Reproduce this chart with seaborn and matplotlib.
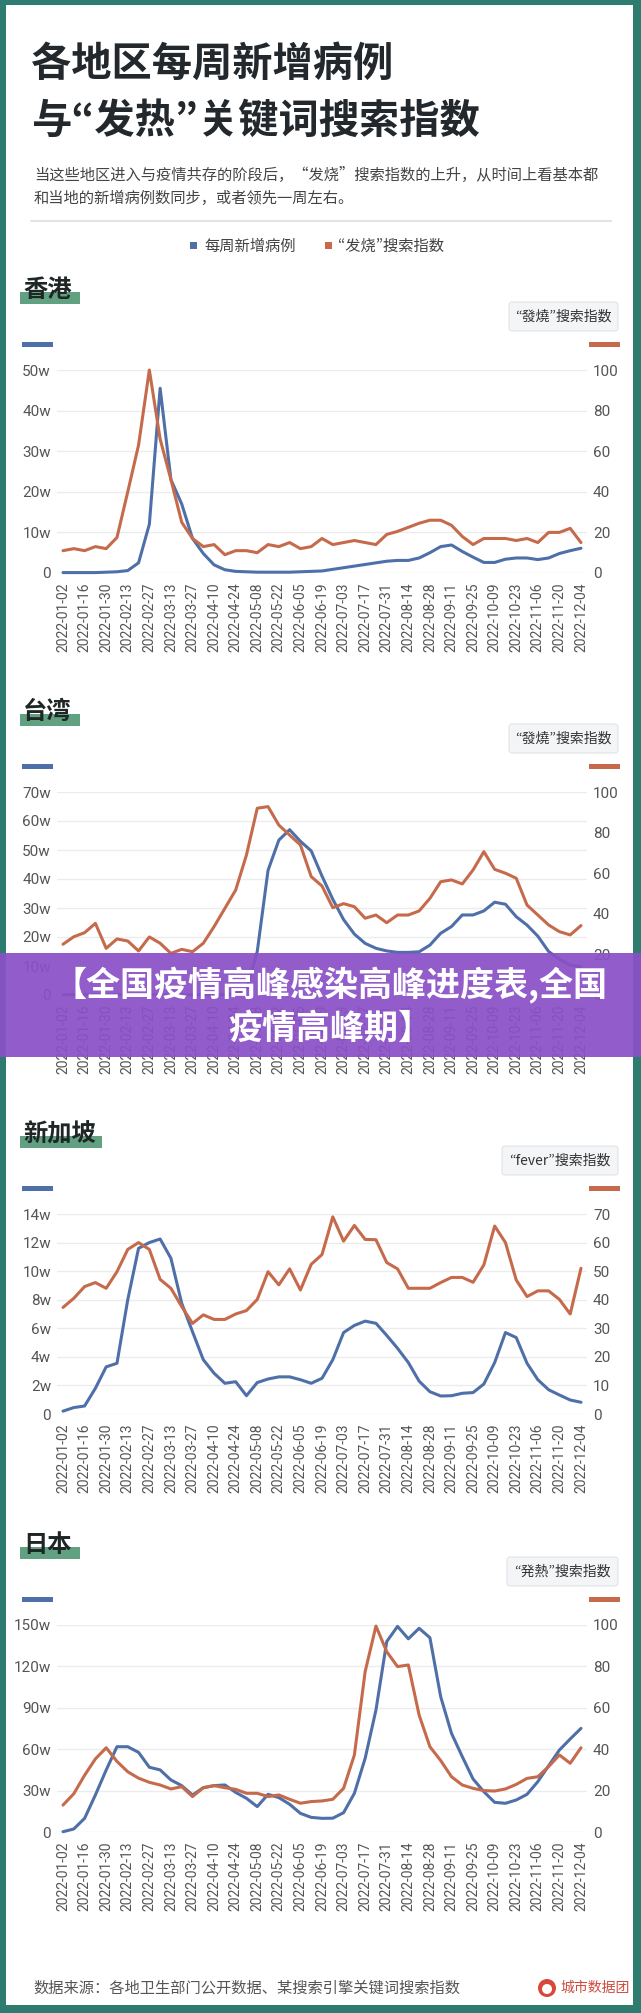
import numpy as np
import pandas as pd
import seaborn as sns
import matplotlib.pyplot as plt
from matplotlib.patches import Rectangle, FancyBboxPatch, Circle

W, H = 641, 2013

weeks = pd.date_range('2022-01-02', '2022-12-04', freq='7D')
tick_weeks = weeks[::2]
tick_labels = [d.strftime('%Y-%m-%d') for d in tick_weeks]

# 香港
hk_cases = [0.1, 0.1, 0.1, 0.1, 0.2, 0.3, 0.6, 2.5, 12, 45.5,
            23, 17, 8.5, 4.8, 2, 0.8, 0.4, 0.3, 0.2, 0.2,
            0.2, 0.2, 0.3, 0.4, 0.5, 0.9, 1.3, 1.7, 2.1, 2.5,
            2.9, 3.1, 3.1, 3.7, 5, 6.5, 6.9, 5.3, 3.9, 2.6,
            2.6, 3.4, 3.7, 3.7, 3.3, 3.7, 4.8, 5.5, 6.1]
hk_search = [11, 12, 11, 13, 12, 17.5, 40, 63, 100, 66,
             46, 25, 17, 13, 14, 9, 11, 11, 10, 14,
             13, 15, 12, 13, 17, 14, 15, 16, 15, 14,
             19, 20.5, 22.5, 24.5, 26, 26, 23.5, 18, 14, 17,
             17, 17, 16, 17, 15, 20, 20, 22, 15]

# 台湾
tw_cases = [0.1, 0.1, 0.1, 0.1, 0.1, 0.1, 0.1, 0.1, 0.1, 0.1,
            0.1, 0.1, 0.1, 0.1, 0.1, 0.1, 0.5, 2, 15, 43,
            53.4, 57, 53, 49.7, 41, 33, 26, 21, 17.8, 16.1,
            15.2, 14.7, 14.7, 14.9, 17.2, 21.3, 23.6, 27.6, 27.6, 29,
            32, 31.3, 27, 24.1, 20.3, 15, 12.3, 10.3, 9.8]
tw_search = [25, 28.7, 30.7, 35.3, 23, 27.6, 26.6, 21.7, 28.6, 25.5,
             20.5, 22.5, 21.3, 25.5, 33.7, 42.7, 51.7, 69, 92, 92.8,
             83.7, 78.8, 73.9, 58.3, 53.7, 43, 45, 43.5, 37.8, 39.4,
             35.6, 39.4, 39.4, 41.4, 47.6, 55.8, 56.7, 54.7, 61.6, 70.6,
             61.9, 60, 57.5, 44.3, 39.4, 34.5, 31.2, 29.6, 34.2]

# 新加坡
sg_cases = [0.2, 0.45, 0.56, 1.8, 3.3, 3.55, 8, 11.6, 12, 12.25,
            10.9, 7.75, 5.76, 3.8, 2.85, 2.15, 2.26, 1.28, 2.2, 2.45,
            2.6, 2.6, 2.4, 2.15, 2.5, 3.8, 5.7, 6.2, 6.5, 6.35,
            5.5, 4.6, 3.6, 2.3, 1.56, 1.26, 1.28, 1.45, 1.5, 2.1,
            3.6, 5.7, 5.35, 3.55, 2.4, 1.7, 1.33, 0.98, 0.82]
sg_search = [37.3, 40.5, 44.6, 46, 44, 49.8, 57.6, 60, 57.6, 47.1,
             44, 37.6, 31.7, 34.7, 33.1, 33.1, 35, 36.2, 40.1, 49.8,
             45.2, 50.8, 43.4, 52.4, 55.8, 69, 60.5, 66, 61.1, 61,
             53, 50.8, 44, 44, 44, 46, 47.8, 47.8, 46.1, 52.2,
             65.8, 60, 46.9, 41.1, 43.1, 43.1, 40.1, 35, 51]

# 日本
jp_cases = [0.2, 2.2, 9.9, 26.8, 44.9, 61.8, 61.8, 57.7, 46.9, 45,
            37.7, 33.6, 26.8, 32.1, 33.6, 34.1, 28.7, 24.4, 18.4, 27.3,
            24.9, 20.1, 13.5, 10.6, 9.9, 10, 14, 28, 53.4, 88.4,
            138, 149, 140, 147.6, 140.8, 98, 71.5, 54.6, 38.4, 29.2,
            21.5, 20.8, 23.2, 27.3, 36.5, 48, 59.4, 67.4, 75.1]
jp_search = [13, 18.5, 27.4, 35.3, 40.7, 34.1, 29.1, 26, 24, 22.7,
             20.8, 21.9, 17.1, 21.4, 22.4, 21.4, 20.6, 18.7, 18.7, 17.1,
             17.9, 15.8, 13.9, 14.7, 15, 15.8, 21.1, 37.2, 77.5, 99.5,
             87.1, 79.9, 80.7, 56.5, 41.2, 34.5, 26.7, 22.7, 21.1, 20,
             19.8, 20.8, 23, 25.9, 26.7, 31.6, 37.2, 33.2, 40.7]

BLUE = '#4f6fa8'
ORANGE = '#c66a4c'
TEAL = '#2e7b6f'
GREEN = '#62a082'
GREY = '#555555'
# proportional quotes come from the JP flavour of the CJK font
QFONT = ['Noto Sans CJK JP', 'DejaVu Sans']

sns.set_theme(style='white')
plt.rcParams['font.family'] = ['Noto Sans CJK SC', 'DejaVu Sans']

fig = plt.figure(figsize=(W / 100, H / 100), dpi=100)

bg = fig.add_axes([0, 0, 1, 1])
bg.set_xlim(0, W)
bg.set_ylim(H, 0)
bg.axis('off')
bg.set_zorder(0)

bg.add_patch(Rectangle((0, 0), W, H, fc=TEAL, ec='none'))
bg.add_patch(Rectangle((6, 5), W - 14, H - 13, fc='white', ec='none'))

# header
bg.text(31, 64, '各地区每周新增病例', fontsize=29, fontweight='bold',
        color='#23282d', va='center', ha='left')
bg.text(31, 121, '与“发热”关键词搜索指数', fontsize=29, fontweight='bold',
        color='#23282d', va='center', ha='left', family=QFONT)
bg.text(34, 175, '当这些地区进入与疫情共存的阶段后，“发烧”搜索指数的上升，从时间上看基本都',
        fontsize=11, color='#444444', va='center', ha='left')
bg.text(34, 198, '和当地的新增病例数同步，或者领先一周左右。',
        fontsize=11, color='#444444', va='center', ha='left')
bg.plot([31, 611], [221, 221], color='#e4e4e4', lw=1.5)

bg.add_patch(Rectangle((190, 242), 7, 7, fc=BLUE, ec='none'))
bg.text(204, 246, '每周新增病例', fontsize=11, color='#444444', va='center')
bg.add_patch(Rectangle((325, 242), 7, 7, fc=ORANGE, ec='none'))
bg.text(338, 246, '“发烧”搜索指数', fontsize=11, color='#444444', va='center',
        family=QFONT)


def draw_panel(top, bottom, name, name_w, box_text, box_x0,
               cases, search, lmax, lstep, rmax, rstep):
    # region label with green highlight
    bg.add_patch(Rectangle((20, top - 78), name_w, 12, fc=GREEN, ec='none'))
    bg.text(23, top - 80, name, fontsize=17.5, fontweight='bold',
            color='#1f2626', va='center', ha='left', zorder=5)

    # right box
    bg.add_patch(FancyBboxPatch((box_x0, top - 68), 618 - box_x0, 29,
                                boxstyle='round,pad=0,rounding_size=3',
                                fc='#f3f5f7', ec='#e1e4e8', lw=0.8))
    bg.text((box_x0 + 618) / 2, top - 53, box_text, fontsize=10,
            color='#333333', va='center', ha='center', family=QFONT)

    # series markers
    bg.add_patch(Rectangle((22, top - 28), 31, 5, fc=BLUE, ec='none'))
    bg.add_patch(Rectangle((589, top - 28), 31, 5, fc=ORANGE, ec='none'))

    ax = fig.add_axes([57 / W, 1 - bottom / H, 530 / W, (bottom - top) / H])
    ax.set_zorder(2)
    ax.patch.set_visible(False)
    ax2 = ax.twinx()
    ax2.set_zorder(3)
    ax2.patch.set_visible(False)

    sns.lineplot(x=weeks, y=cases, ax=ax, color=BLUE, linewidth=2.2)
    sns.lineplot(x=weeks, y=search, ax=ax2, color=ORANGE, linewidth=2.2)
    for line in ax.lines + ax2.lines:
        line.set_clip_on(False)
        line.set_solid_joinstyle('round')

    pad = pd.Timedelta(days=3.9)
    ax.set_xlim(weeks[0] - pad, weeks[-1] + pad)
    ax.set_xticks(tick_weeks)
    ax.set_xticklabels(tick_labels, rotation=90, fontfamily='Roboto',
                       fontsize=10, color=GREY)

    lt = list(range(0, lmax + 1, lstep))
    ax.set_ylim(0, lmax)
    ax.set_yticks(lt)
    ax.set_yticklabels(['0' if v == 0 else f'{v}w' for v in lt],
                       fontfamily='Roboto', fontsize=11, color=GREY)
    rt = list(range(0, rmax + 1, rstep))
    ax2.set_ylim(0, rmax)
    ax2.set_yticks(rt)
    ax2.set_yticklabels([str(v) for v in rt], fontfamily='Roboto',
                        fontsize=11, color=GREY)

    ax.tick_params(axis='y', length=0, pad=4.3)
    ax2.tick_params(axis='y', length=0, pad=4.3)
    ax.tick_params(axis='x', length=0, pad=6.5)
    ax.set_xlabel('')
    ax.set_ylabel('')
    ax2.set_ylabel('')
    ax.yaxis.grid(True, color='#ececec', lw=1)
    ax.xaxis.grid(False)
    ax2.grid(False)
    ax.set_axisbelow(True)
    for a in (ax, ax2):
        for s in a.spines.values():
            s.set_visible(False)


draw_panel(370, 573, '香港', 60, '“發燒”搜索指数', 509,
           hk_cases, hk_search, 50, 10, 100, 20)
draw_panel(792, 995, '台湾', 60, '“發燒”搜索指数', 509,
           tw_cases, tw_search, 70, 10, 100, 20)
draw_panel(1214, 1414, '新加坡', 82, '“fever”搜索指数', 502,
           sg_cases, sg_search, 14, 2, 70, 10)
draw_panel(1625, 1832, '日本', 60, '“発熱”搜索指数', 507,
           jp_cases, jp_search, 150, 30, 100, 20)

# footer
bg.text(33, 1988, '数据来源：各地卫生部门公开数据、某搜索引擎关键词搜索指数',
        fontsize=11, color=GREY, va='center', ha='left')
bg.add_patch(Circle((547, 1988), 9, fc='#d8473a', ec='none'))
bg.add_patch(Circle((547, 1989), 5, fc='white', ec='none'))
bg.text(560, 1988, '城市数据团', fontsize=10, color='#cf4a3c',
        va='center', ha='left')

# overlay banner
fg = fig.add_axes([0, 0, 1, 1])
fg.set_xlim(0, W)
fg.set_ylim(H, 0)
fg.axis('off')
fg.set_zorder(10)
fg.patch.set_visible(False)
fg.add_patch(Rectangle((0, 953), W, 104, fc='#8a50c6', ec='none', alpha=0.93))
fg.text(330, 985, '【全国疫情高峰感染高峰进度表,全国', fontsize=24.5,
        fontweight='bold', color='white', va='center', ha='center')
fg.text(330, 1028, '疫情高峰期】', fontsize=24.5, fontweight='bold',
        color='white', va='center', ha='center')

fig.savefig('out.png', dpi=100)
